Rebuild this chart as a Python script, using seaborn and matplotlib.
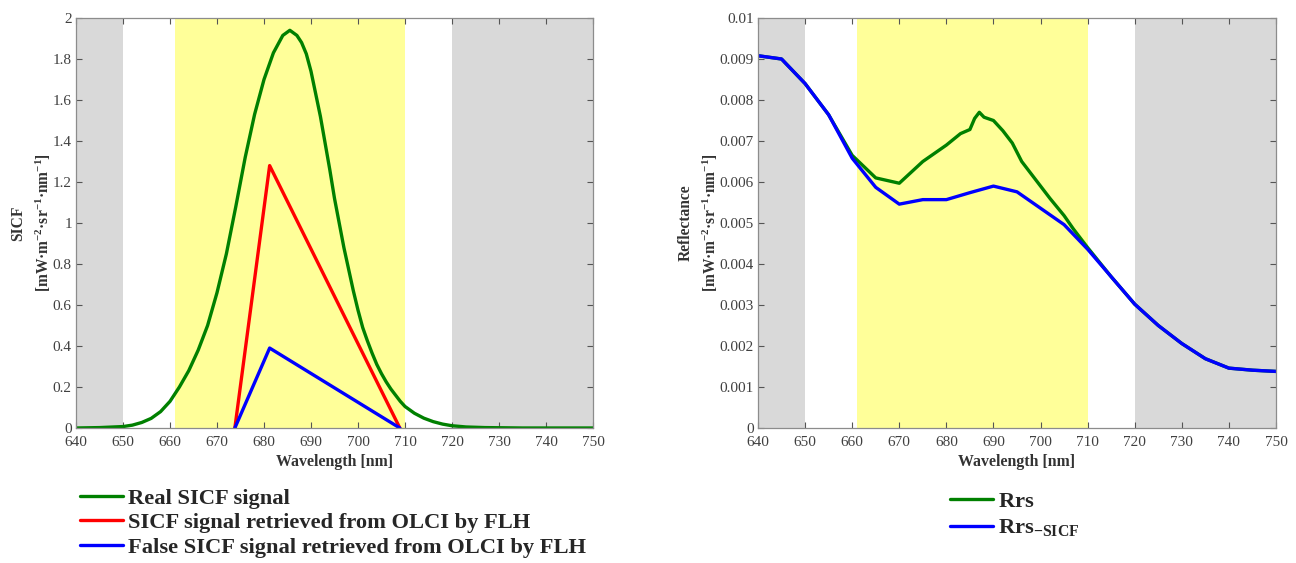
import matplotlib
matplotlib.use("Agg")
import matplotlib.pyplot as plt
from matplotlib.ticker import FuncFormatter, MultipleLocator
import seaborn as sns

# left panel: SICF spectra
sicf_wl = [640, 645, 650, 652, 654, 656, 658, 660, 662, 664, 666, 668, 670, 672, 674, 676,
           678, 680, 682, 684, 685.5, 687, 688, 689, 690, 691, 692, 693, 694, 695, 696, 697,
           698, 699, 700, 701, 702, 703, 704, 705, 706, 707, 708, 709, 710, 712, 714, 716,
           718, 720, 723, 727, 735, 750]
sicf_real = [0.0, 0.002, 0.007, 0.014, 0.027, 0.047, 0.08, 0.13, 0.20, 0.28, 0.38, 0.50,
             0.66, 0.85, 1.08, 1.32, 1.53, 1.70, 1.83, 1.915, 1.94, 1.915, 1.88, 1.825,
             1.74, 1.63, 1.52, 1.39, 1.26, 1.12, 1.00, 0.88, 0.775, 0.67, 0.575, 0.49, 0.425,
             0.365, 0.31, 0.265, 0.225, 0.19, 0.16, 0.13, 0.105, 0.072, 0.048, 0.031, 0.019,
             0.011, 0.005, 0.002, 0.0, 0.0]
flh_wl = [673.8, 681.2, 708.9]
flh_true = [0.0, 1.28, 0.0]
flh_false = [0.0, 0.39, 0.0]

# right panel: reflectance
rrs_wl = [640, 645, 650, 655, 660, 665, 670, 675, 680, 683, 685, 686, 687, 688, 690, 692, 694,
          696, 698, 700, 702, 705, 707, 710, 715, 720, 725, 730, 735, 740, 745, 750]
rrs = [0.00908, 0.00900, 0.00840, 0.00764, 0.00665, 0.00610, 0.00597, 0.00650, 0.00690,
       0.00718, 0.00728, 0.00755, 0.00770, 0.00758, 0.00750, 0.00725, 0.00695, 0.00650,
       0.00620, 0.00590, 0.00560, 0.00518, 0.00485, 0.00440, 0.00369, 0.00302, 0.00250,
       0.00206, 0.00169, 0.00146, 0.00141, 0.00138]
nosif_wl = [640, 645, 650, 655, 660, 665, 670, 675, 680, 685, 690, 695, 700, 705, 710, 715,
            720, 725, 730, 735, 740, 745, 750]
rrs_nosif = [0.00908, 0.00900, 0.00840, 0.00764, 0.00658, 0.00587, 0.00546, 0.00557, 0.00557,
             0.00574, 0.00590, 0.00576, 0.00536, 0.00496, 0.00436, 0.00369, 0.00302, 0.00250,
             0.00206, 0.00169, 0.00146, 0.00141, 0.00138]

sns.set_style("ticks")
plt.rcParams["font.family"] = ["Liberation Serif", "DejaVu Serif"]
plt.rcParams["mathtext.fontset"] = "custom"
plt.rcParams["mathtext.rm"] = "Liberation Serif"
plt.rcParams["mathtext.bf"] = "Liberation Serif:bold"
plt.rcParams["mathtext.it"] = "Liberation Serif:italic"

GREEN, RED, BLUE = "#008000", "#ff0000", "#0000ff"
GRAY, YELLOW = "#d9d9d9", "#ffff99"
SPINE = "#8c8c8c"
TXT = "#333333"
LW = 2.4

fig = plt.figure(figsize=(12.96, 5.63), dpi=100)
ax1 = fig.add_axes([76 / 1296, 1 - 428 / 563, 517 / 1296, 410 / 563])
ax2 = fig.add_axes([758 / 1296, 1 - 428 / 563, 518 / 1296, 410 / 563])


def shade(ax):
    ax.axvspan(640, 650, color=GRAY, lw=0, zorder=0)
    ax.axvspan(720, 750, color=GRAY, lw=0, zorder=0)
    ax.axvspan(661, 710, color=YELLOW, lw=0, zorder=0)


def style(ax, ymax, ystep):
    ax.set_xlim(640, 750)
    ax.set_ylim(0, ymax)
    ax.xaxis.set_major_locator(MultipleLocator(10))
    ax.yaxis.set_major_locator(MultipleLocator(ystep))
    ax.yaxis.set_major_formatter(FuncFormatter(lambda v, p: "%g" % round(v, 6)))
    ax.tick_params(direction="in", top=True, right=True, length=4, width=0.8,
                   color="#555555", labelsize=11, labelcolor="#404040")
    ax.tick_params(axis="x", pad=6)
    ax.tick_params(axis="y", pad=3)
    for s in ax.spines.values():
        s.set_color(SPINE)
        s.set_linewidth(0.9)
        s.set_zorder(5)
    ax.set_xlabel("Wavelength [nm]", fontsize=11.4, fontweight="bold", color=TXT, labelpad=3.5)


unit = r"$\mathbf{[mW·m^{-2}·sr^{-1}·nm^{-1}]}$"
leg_kw = dict(bbox_transform=fig.transFigure, loc="upper left", frameon=False, borderpad=0,
              borderaxespad=0, handlelength=1.9, handletextpad=0.25,
              prop={"weight": "bold", "size": 16.2})

shade(ax1)
sns.lineplot(x=sicf_wl, y=sicf_real, ax=ax1, color=GREEN, lw=LW, label="Real SICF signal")
sns.lineplot(x=flh_wl, y=flh_true, ax=ax1, color=RED, lw=LW,
             label="SICF signal retrieved from OLCI by FLH")
sns.lineplot(x=flh_wl, y=flh_false, ax=ax1, color=BLUE, lw=LW,
             label="False SICF signal retrieved from OLCI by FLH")
style(ax1, 2, 0.2)
ax1.set_ylabel("SICF\n" + unit, fontsize=11.2, fontweight="bold", color=TXT,
               labelpad=0, linespacing=1.45)
ax1.legend(bbox_to_anchor=(80 / 1296, 1 - 488 / 563), labelspacing=0.17, **leg_kw)

shade(ax2)
sns.lineplot(x=rrs_wl, y=rrs, ax=ax2, color=GREEN, lw=LW, label=r"$\mathbf{Rrs}$")
sns.lineplot(x=nosif_wl, y=rrs_nosif, ax=ax2, color=BLUE, lw=LW,
             label=r"$\mathbf{Rrs_{-SICF}}$")
style(ax2, 0.01, 0.001)
ax2.set_ylabel("Reflectance\n" + unit, fontsize=11.2, fontweight="bold", color=TXT,
               labelpad=0, linespacing=1.45)
ax2.legend(bbox_to_anchor=(950 / 1296, 1 - 491 / 563), labelspacing=0.25, **leg_kw)

for ax in (ax1, ax2):
    for line in ax.get_lines():
        line.set_solid_joinstyle("round")

fig.savefig("out.png", dpi=100)
